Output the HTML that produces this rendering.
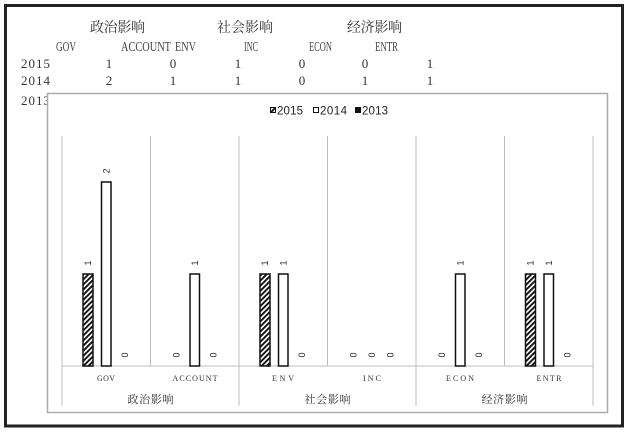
<!DOCTYPE html>
<html><head><meta charset="utf-8"><style>
html,body{margin:0;padding:0;background:#fff;}
svg{display:block;}
</style></head><body>
<svg width="628" height="438" viewBox="0 0 628 438" xmlns="http://www.w3.org/2000/svg">
<defs>
<pattern id="hatch" patternUnits="userSpaceOnUse" width="3.6" height="3.6" patternTransform="rotate(45)">
<rect x="0" y="0" width="3.6" height="3.6" fill="#fff"/>
<rect x="0" y="0" width="1.9" height="3.6" fill="#111"/>
</pattern>
</defs>
<rect x="0" y="0" width="628" height="438" fill="#fff"/>
<!-- outer frame -->
<rect x="5.5" y="5.5" width="617" height="420.5" fill="none" stroke="#222" stroke-width="3"/>

<!-- top table -->
<g font-family="'Liberation Serif','Noto Serif CJK SC',serif" fill="#333">
<g font-size="14" font-family="'Noto Serif CJK SC','Liberation Serif',serif">
<text x="90" y="32" textLength="55">政治影响</text>
<text x="217" y="32" textLength="56">社会影响</text>
<text x="347" y="32" textLength="55">经济影响</text>
</g>
<g font-size="14" fill="#444">
<text x="56" y="51" textLength="20" lengthAdjust="spacingAndGlyphs">GOV</text>
<text x="121" y="51" textLength="50" lengthAdjust="spacingAndGlyphs">ACCOUNT</text>
<text x="175" y="51" textLength="21" lengthAdjust="spacingAndGlyphs">ENV</text>
<text x="244" y="51" textLength="14" lengthAdjust="spacingAndGlyphs">INC</text>
<text x="309" y="51" textLength="23" lengthAdjust="spacingAndGlyphs">ECON</text>
<text x="375" y="51" textLength="23" lengthAdjust="spacingAndGlyphs">ENTR</text>
</g>
<g font-size="13">
<text x="21" y="68" textLength="29">2015</text>
<text x="21" y="85" textLength="29">2014</text>
<text x="21" y="105" textLength="29">2013</text>
<g text-anchor="middle">
<text x="109" y="68">1</text><text x="173" y="68">0</text><text x="238" y="68">1</text><text x="302" y="68">0</text><text x="365" y="68">0</text><text x="430" y="68">1</text>
<text x="109" y="85">2</text><text x="173" y="85">1</text><text x="238" y="85">1</text><text x="302" y="85">0</text><text x="365" y="85">1</text><text x="430" y="85">1</text>
</g>
</g>
</g>

<!-- chart box -->
<rect x="47.5" y="93.5" width="560" height="319" fill="#fff" stroke="#aaa" stroke-width="1.5"/>

<!-- legend -->
<g font-family="'Liberation Sans',sans-serif" font-size="11.5" fill="#222">
<rect x="270.5" y="107.5" width="5" height="5" fill="url(#hatch)" stroke="#111" stroke-width="1"/>
<text x="277" y="114.5" textLength="26">2015</text>
<rect x="313.5" y="107.5" width="5" height="5" fill="#fff" stroke="#111" stroke-width="1"/>
<text x="320" y="114.5" textLength="27">2014</text>
<rect x="355.5" y="107.5" width="5" height="5" fill="#111" stroke="#111" stroke-width="1"/>
<text x="362" y="114.5" textLength="26">2013</text>
</g>

<!-- gridlines / separators -->
<g stroke="#bdbdbd" stroke-width="1">
<line x1="62" y1="136" x2="62" y2="406"/>
<line x1="150.5" y1="136" x2="150.5" y2="366"/>
<line x1="239" y1="136" x2="239" y2="406"/>
<line x1="327.5" y1="136" x2="327.5" y2="366"/>
<line x1="416" y1="136" x2="416" y2="406"/>
<line x1="504.5" y1="136" x2="504.5" y2="366"/>
<line x1="593" y1="136" x2="593" y2="406"/>
<line x1="62" y1="366" x2="593" y2="366"/>
</g>

<!-- bars -->
<g stroke="#111" stroke-width="1.5">
<rect x="83" y="274" width="10" height="92" fill="url(#hatch)"/>
<rect x="101.5" y="182" width="9.5" height="184" fill="#fff"/>
<rect x="190" y="274" width="9.5" height="92" fill="#fff"/>
<rect x="260" y="274" width="10" height="92" fill="url(#hatch)"/>
<rect x="278.5" y="274" width="9.5" height="92" fill="#fff"/>
<rect x="455.5" y="274" width="9.5" height="92" fill="#fff"/>
<rect x="525.5" y="274" width="10" height="92" fill="url(#hatch)"/>
<rect x="544" y="274" width="9.5" height="92" fill="#fff"/>
</g>

<!-- data labels -->
<g font-family="'Liberation Sans',sans-serif" font-size="9" fill="#222" text-anchor="middle" dominant-baseline="central">
<text transform="translate(88,263) rotate(-90)">1</text>
<text transform="translate(106.25,171) rotate(-90)">2</text>
<text transform="translate(124.75,355) rotate(-90)">0</text>
<text transform="translate(176.25,355) rotate(-90)">0</text>
<text transform="translate(194.75,263) rotate(-90)">1</text>
<text transform="translate(213.25,355) rotate(-90)">0</text>
<text transform="translate(265,263) rotate(-90)">1</text>
<text transform="translate(283.25,263) rotate(-90)">1</text>
<text transform="translate(301.75,355) rotate(-90)">0</text>
<text transform="translate(353.25,355) rotate(-90)">0</text>
<text transform="translate(371.75,355) rotate(-90)">0</text>
<text transform="translate(390.25,355) rotate(-90)">0</text>
<text transform="translate(441.75,355) rotate(-90)">0</text>
<text transform="translate(460.25,263) rotate(-90)">1</text>
<text transform="translate(478.75,355) rotate(-90)">0</text>
<text transform="translate(530.5,263) rotate(-90)">1</text>
<text transform="translate(548.75,263) rotate(-90)">1</text>
<text transform="translate(567.25,355) rotate(-90)">0</text>
</g>

<!-- category labels -->
<g font-family="'Liberation Serif',serif" font-size="8" fill="#333" text-anchor="middle">
<text x="106" y="381" textLength="18">GOV</text>
<text x="195" y="381" textLength="45">ACCOUNT</text>
<text x="283" y="381" textLength="22">ENV</text>
<text x="372" y="381" textLength="18">INC</text>
<text x="460" y="381" textLength="28">ECON</text>
<text x="549" y="381" textLength="25">ENTR</text>
</g>
<g font-family="'Noto Serif CJK SC','Liberation Serif',serif" font-size="11" fill="#333" text-anchor="middle">
<text x="150.5" y="403" textLength="46">政治影响</text>
<text x="327.5" y="403" textLength="46">社会影响</text>
<text x="504.5" y="403" textLength="46">经济影响</text>
</g>
</svg>
</body></html>
